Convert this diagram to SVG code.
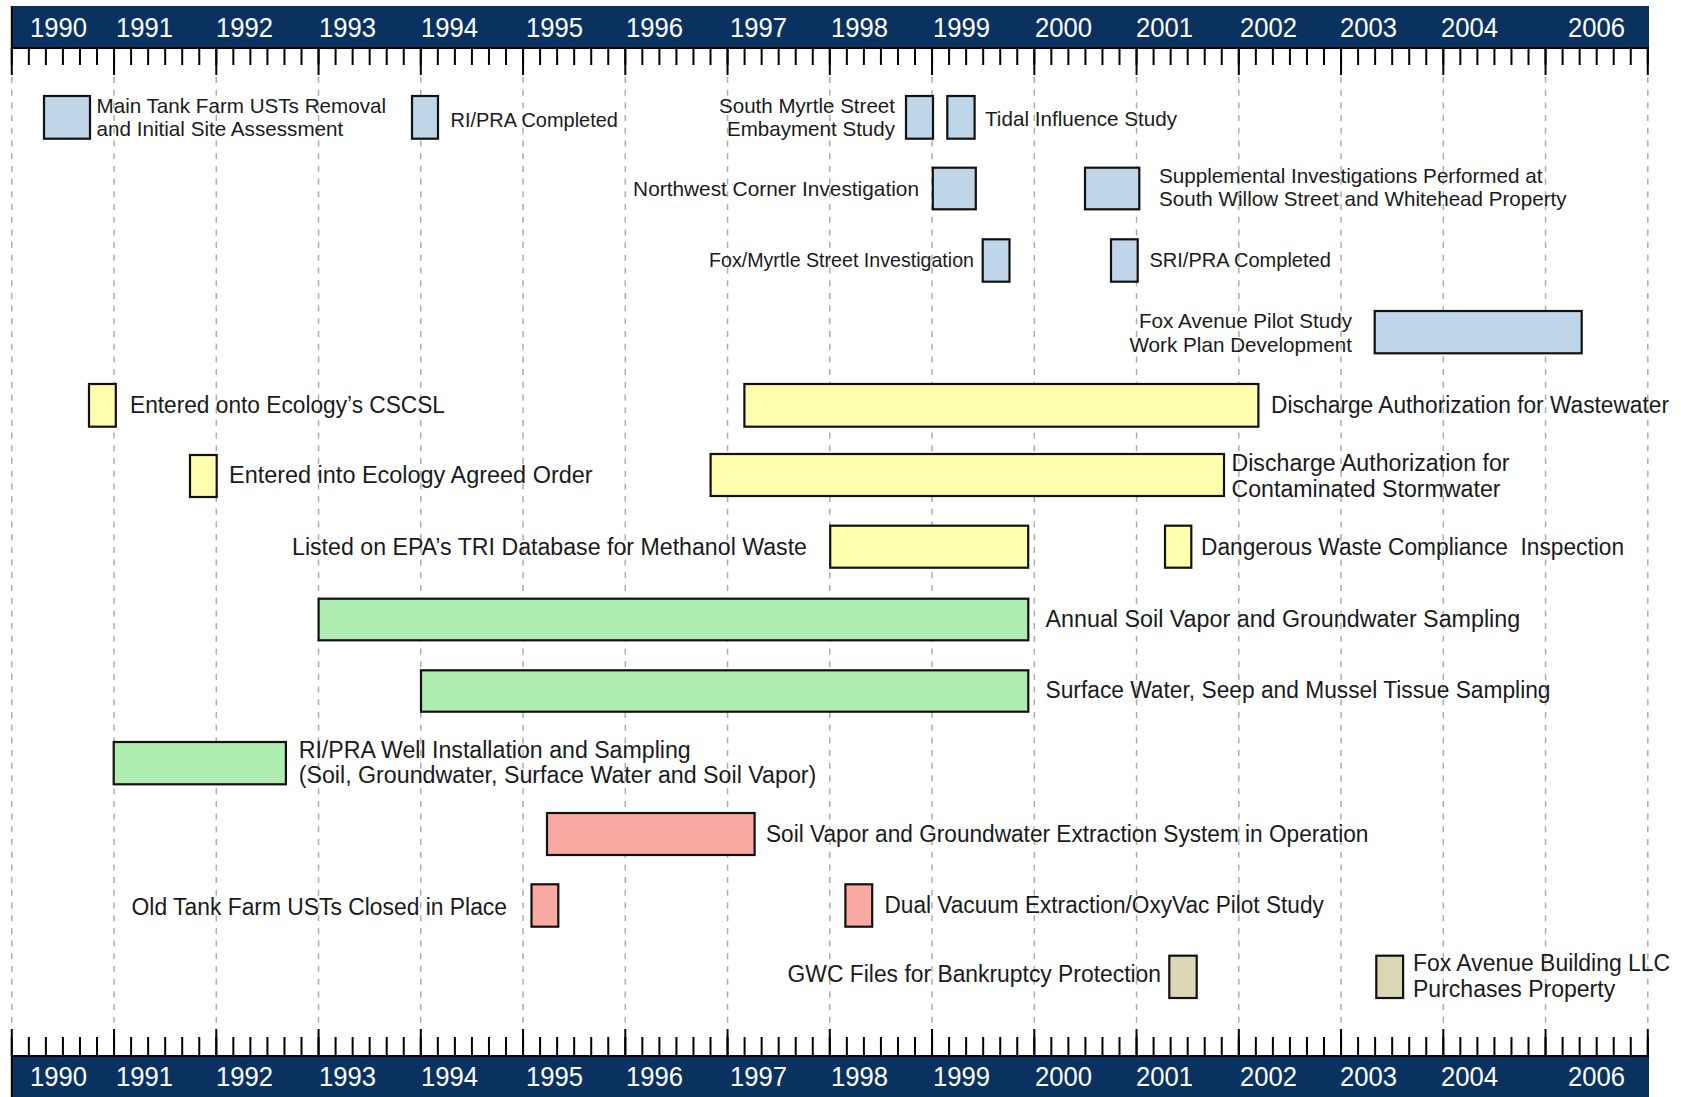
<svg xmlns="http://www.w3.org/2000/svg" width="1681" height="1097" viewBox="0 0 1681 1097">
<style>
.bar{fill:#0a3260}
.yr{fill:#ffffff;font-family:"Liberation Sans",Arial,sans-serif;font-size:28px}
.grid{stroke:#adadad;stroke-width:1.5;stroke-dasharray:6 6.7;fill:none}
.axl{stroke:#000;fill:none}
.box{stroke:#111;stroke-width:2.2}
.blue{fill:#bfd5e8}
.yel{fill:#ffffad}
.grn{fill:#afecaf}
.red{fill:#f8a9a2}
.tan{fill:#dbd6b4}
.s{font-family:"Liberation Sans",Arial,sans-serif;font-size:20.6px;fill:#1a1a1a}
.l{font-family:"Liberation Sans",Arial,sans-serif;font-size:23px;fill:#1a1a1a}
.e{text-anchor:end}
</style>
<rect width="1681" height="1097" fill="#ffffff"/>
<g id="grid">
<line class="grid" x1="11.8" y1="77" x2="11.8" y2="1028"/>
<line class="grid" x1="114.05" y1="77" x2="114.05" y2="1028"/>
<line class="grid" x1="216.3" y1="77" x2="216.3" y2="1028"/>
<line class="grid" x1="318.55" y1="77" x2="318.55" y2="1028"/>
<line class="grid" x1="420.8" y1="77" x2="420.8" y2="1028"/>
<line class="grid" x1="523.05" y1="77" x2="523.05" y2="1028"/>
<line class="grid" x1="625.3" y1="77" x2="625.3" y2="1028"/>
<line class="grid" x1="727.55" y1="77" x2="727.55" y2="1028"/>
<line class="grid" x1="829.8" y1="77" x2="829.8" y2="1028"/>
<line class="grid" x1="932.05" y1="77" x2="932.05" y2="1028"/>
<line class="grid" x1="1034.3" y1="77" x2="1034.3" y2="1028"/>
<line class="grid" x1="1136.55" y1="77" x2="1136.55" y2="1028"/>
<line class="grid" x1="1238.8" y1="77" x2="1238.8" y2="1028"/>
<line class="grid" x1="1341.05" y1="77" x2="1341.05" y2="1028"/>
<line class="grid" x1="1443.3" y1="77" x2="1443.3" y2="1028"/>
<line class="grid" x1="1545.55" y1="77" x2="1545.55" y2="1028"/>
<line class="grid" x1="1647.8" y1="77" x2="1647.8" y2="1028"/>
</g>
<g id="top-axis">
<rect class="bar" x="11" y="6" width="1638" height="42"/>
<line class="axl" x1="11.8" y1="6" x2="11.8" y2="49" stroke-width="2"/>
<line class="axl" x1="11" y1="48" x2="1649" y2="48" stroke-width="2"/>
<line class="axl" x1="10.8" y1="56.5" x2="1650" y2="56.5" stroke-width="17" stroke-dasharray="2 15.0417"/>
<line class="axl" x1="10.8" y1="61.5" x2="1650" y2="61.5" stroke-width="27" stroke-dasharray="2 100.25"/>
<text class="yr" x="30" y="37" textLength="57" lengthAdjust="spacingAndGlyphs">1990</text>
<text class="yr" x="116" y="37" textLength="57" lengthAdjust="spacingAndGlyphs">1991</text>
<text class="yr" x="216" y="37" textLength="57" lengthAdjust="spacingAndGlyphs">1992</text>
<text class="yr" x="319" y="37" textLength="57" lengthAdjust="spacingAndGlyphs">1993</text>
<text class="yr" x="421" y="37" textLength="57" lengthAdjust="spacingAndGlyphs">1994</text>
<text class="yr" x="526" y="37" textLength="57" lengthAdjust="spacingAndGlyphs">1995</text>
<text class="yr" x="626" y="37" textLength="57" lengthAdjust="spacingAndGlyphs">1996</text>
<text class="yr" x="730" y="37" textLength="57" lengthAdjust="spacingAndGlyphs">1997</text>
<text class="yr" x="831" y="37" textLength="57" lengthAdjust="spacingAndGlyphs">1998</text>
<text class="yr" x="933" y="37" textLength="57" lengthAdjust="spacingAndGlyphs">1999</text>
<text class="yr" x="1035" y="37" textLength="57" lengthAdjust="spacingAndGlyphs">2000</text>
<text class="yr" x="1136" y="37" textLength="57" lengthAdjust="spacingAndGlyphs">2001</text>
<text class="yr" x="1240" y="37" textLength="57" lengthAdjust="spacingAndGlyphs">2002</text>
<text class="yr" x="1340" y="37" textLength="57" lengthAdjust="spacingAndGlyphs">2003</text>
<text class="yr" x="1441" y="37" textLength="57" lengthAdjust="spacingAndGlyphs">2004</text>
<text class="yr" x="1568" y="37" textLength="57" lengthAdjust="spacingAndGlyphs">2006</text>
</g>
<g id="bottom-axis">
<rect class="bar" x="11" y="1056" width="1638" height="41"/>
<line class="axl" x1="11.8" y1="1056" x2="11.8" y2="1097" stroke-width="2"/>
<line class="axl" x1="11" y1="1056" x2="1649" y2="1056" stroke-width="2"/>
<line class="axl" x1="10.8" y1="1046.5" x2="1650" y2="1046.5" stroke-width="19" stroke-dasharray="2 15.0417"/>
<line class="axl" x1="10.8" y1="1042.5" x2="1650" y2="1042.5" stroke-width="27" stroke-dasharray="2 100.25"/>
<text class="yr" x="30" y="1086" textLength="57" lengthAdjust="spacingAndGlyphs">1990</text>
<text class="yr" x="116" y="1086" textLength="57" lengthAdjust="spacingAndGlyphs">1991</text>
<text class="yr" x="216" y="1086" textLength="57" lengthAdjust="spacingAndGlyphs">1992</text>
<text class="yr" x="319" y="1086" textLength="57" lengthAdjust="spacingAndGlyphs">1993</text>
<text class="yr" x="421" y="1086" textLength="57" lengthAdjust="spacingAndGlyphs">1994</text>
<text class="yr" x="526" y="1086" textLength="57" lengthAdjust="spacingAndGlyphs">1995</text>
<text class="yr" x="626" y="1086" textLength="57" lengthAdjust="spacingAndGlyphs">1996</text>
<text class="yr" x="730" y="1086" textLength="57" lengthAdjust="spacingAndGlyphs">1997</text>
<text class="yr" x="831" y="1086" textLength="57" lengthAdjust="spacingAndGlyphs">1998</text>
<text class="yr" x="933" y="1086" textLength="57" lengthAdjust="spacingAndGlyphs">1999</text>
<text class="yr" x="1035" y="1086" textLength="57" lengthAdjust="spacingAndGlyphs">2000</text>
<text class="yr" x="1136" y="1086" textLength="57" lengthAdjust="spacingAndGlyphs">2001</text>
<text class="yr" x="1240" y="1086" textLength="57" lengthAdjust="spacingAndGlyphs">2002</text>
<text class="yr" x="1340" y="1086" textLength="57" lengthAdjust="spacingAndGlyphs">2003</text>
<text class="yr" x="1441" y="1086" textLength="57" lengthAdjust="spacingAndGlyphs">2004</text>
<text class="yr" x="1568" y="1086" textLength="57" lengthAdjust="spacingAndGlyphs">2006</text>
</g>
<g id="main-tank-farm"><rect class="box blue" x="44" y="96" width="46" height="42.7"/><text class="s" x="96.5" y="113" textLength="289.5" lengthAdjust="spacingAndGlyphs">Main Tank Farm USTs Removal</text><text class="s" x="96.5" y="136" textLength="246.8" lengthAdjust="spacingAndGlyphs">and Initial Site Assessment</text></g>
<g id="ri-pra-completed"><rect class="box blue" x="412" y="96" width="26" height="42.7"/><text class="s" x="450.5" y="127" textLength="167.4" lengthAdjust="spacingAndGlyphs">RI/PRA Completed</text></g>
<g id="south-myrtle"><rect class="box blue" x="906" y="96" width="27" height="42.7"/><text class="s e" x="895" y="113" textLength="176" lengthAdjust="spacingAndGlyphs">South Myrtle Street</text><text class="s e" x="895" y="136" textLength="168" lengthAdjust="spacingAndGlyphs">Embayment Study</text></g>
<g id="tidal-influence"><rect class="box blue" x="947.3" y="96" width="27.3" height="42.7"/><text class="s" x="985" y="126" textLength="192" lengthAdjust="spacingAndGlyphs">Tidal Influence Study</text></g>
<g id="northwest-corner"><rect class="box blue" x="932.8" y="167.7" width="43" height="41.6"/><text class="s e" x="919" y="196" textLength="285.9" lengthAdjust="spacingAndGlyphs">Northwest Corner Investigation</text></g>
<g id="supplemental"><rect class="box blue" x="1085" y="167.7" width="54.3" height="41.6"/><text class="s" x="1159" y="183" textLength="383.5" lengthAdjust="spacingAndGlyphs">Supplemental Investigations Performed at</text><text class="s" x="1159" y="206" textLength="407.6" lengthAdjust="spacingAndGlyphs">South Willow Street and Whitehead Property</text></g>
<g id="fox-myrtle"><rect class="box blue" x="982.7" y="239.3" width="26.8" height="42.4"/><text class="s e" x="974" y="267" textLength="265" lengthAdjust="spacingAndGlyphs">Fox/Myrtle Street Investigation</text></g>
<g id="sri-pra"><rect class="box blue" x="1111" y="239.3" width="26.7" height="42.4"/><text class="s" x="1149.5" y="267" textLength="181.3" lengthAdjust="spacingAndGlyphs">SRI/PRA Completed</text></g>
<g id="fox-avenue-pilot"><rect class="box blue" x="1374.7" y="311" width="207" height="42.3"/><text class="s e" x="1352" y="328" textLength="213" lengthAdjust="spacingAndGlyphs">Fox Avenue Pilot Study</text><text class="s e" x="1352" y="352" textLength="222.6" lengthAdjust="spacingAndGlyphs">Work Plan Development</text></g>
<g id="cscsl"><rect class="box yel" x="89" y="384" width="26.8" height="42.7"/><text class="l" x="130" y="413" textLength="315" lengthAdjust="spacingAndGlyphs">Entered onto Ecology’s CSCSL</text></g>
<g id="wastewater"><rect class="box yel" x="744.4" y="384" width="514" height="42.7"/><text class="l" x="1271" y="413" textLength="398" lengthAdjust="spacingAndGlyphs">Discharge Authorization for Wastewater</text></g>
<g id="agreed-order"><rect class="box yel" x="190" y="455" width="26.7" height="42"/><text class="l" x="229" y="483" textLength="363.6" lengthAdjust="spacingAndGlyphs">Entered into Ecology Agreed Order</text></g>
<g id="stormwater"><rect class="box yel" x="710.6" y="454" width="513.4" height="42"/><text class="l" x="1231.5" y="471" textLength="278" lengthAdjust="spacingAndGlyphs">Discharge Authorization for</text><text class="l" x="1231.5" y="497" textLength="269" lengthAdjust="spacingAndGlyphs">Contaminated Stormwater</text></g>
<g id="tri-database"><rect class="box yel" x="830.2" y="525.7" width="198" height="42"/><text class="l e" x="807" y="555" textLength="515" lengthAdjust="spacingAndGlyphs">Listed on EPA’s TRI Database for Methanol Waste</text></g>
<g id="dangerous-waste"><rect class="box yel" x="1165" y="525.7" width="26.3" height="42"/><text class="l" x="1201" y="555" textLength="423" lengthAdjust="spacingAndGlyphs" style="white-space:pre">Dangerous Waste Compliance  Inspection</text></g>
<g id="annual-sampling"><rect class="box grn" x="318.6" y="598.7" width="709.7" height="41.6"/><text class="l" x="1045.5" y="627" textLength="474.7" lengthAdjust="spacingAndGlyphs">Annual Soil Vapor and Groundwater Sampling</text></g>
<g id="surface-water"><rect class="box grn" x="421" y="670.3" width="607.3" height="41.4"/><text class="l" x="1045.5" y="698" textLength="505" lengthAdjust="spacingAndGlyphs">Surface Water, Seep and Mussel Tissue Sampling</text></g>
<g id="well-installation"><rect class="box grn" x="113.7" y="742" width="172.2" height="42.3"/><text class="l" x="298.7" y="758" textLength="392" lengthAdjust="spacingAndGlyphs">RI/PRA Well Installation and Sampling</text><text class="l" x="298.7" y="783" textLength="517.6" lengthAdjust="spacingAndGlyphs">(Soil, Groundwater, Surface Water and Soil Vapor)</text></g>
<g id="extraction-system"><rect class="box red" x="547" y="813" width="207.6" height="42"/><text class="l" x="766" y="842" textLength="602.4" lengthAdjust="spacingAndGlyphs">Soil Vapor and Groundwater Extraction System in Operation</text></g>
<g id="old-tank-farm"><rect class="box red" x="531.5" y="884.3" width="26.8" height="42.4"/><text class="l e" x="507" y="915" textLength="375.4" lengthAdjust="spacingAndGlyphs">Old Tank Farm USTs Closed in Place</text></g>
<g id="dual-vacuum"><rect class="box red" x="845.4" y="884.3" width="26.8" height="42.4"/><text class="l" x="884.5" y="913" textLength="439.3" lengthAdjust="spacingAndGlyphs">Dual Vacuum Extraction/OxyVac Pilot Study</text></g>
<g id="gwc-bankruptcy"><rect class="box tan" x="1169.3" y="955.7" width="27.4" height="42.3"/><text class="l e" x="1161" y="982" textLength="373.4" lengthAdjust="spacingAndGlyphs">GWC Files for Bankruptcy Protection</text></g>
<g id="fox-avenue-building"><rect class="box tan" x="1376.3" y="955.7" width="26.8" height="42.3"/><text class="l" x="1413" y="971" textLength="257.2" lengthAdjust="spacingAndGlyphs">Fox Avenue Building LLC</text><text class="l" x="1413" y="997" textLength="202.2" lengthAdjust="spacingAndGlyphs">Purchases Property</text></g>
</svg>
